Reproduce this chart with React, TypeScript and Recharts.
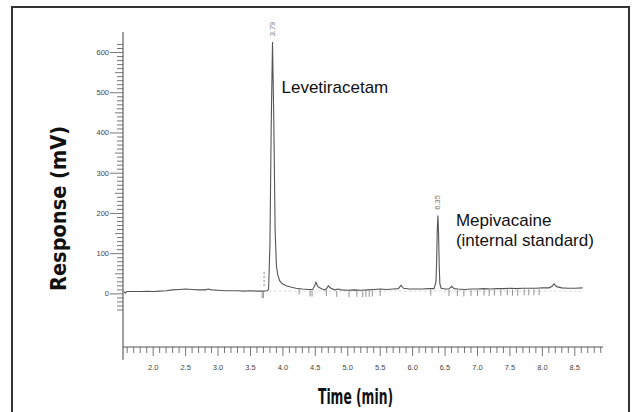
import React from "react";
import {
    ComposedChart,
    Line,
    Scatter,
    XAxis,
    YAxis,
    ReferenceLine,
    ReferenceDot,
    Label,
} from "recharts";

// chromatogram trace, time (min) vs response (mV)
const traceTime = [
    1.55, 1.57, 1.59, 1.7, 1.8, 1.9, 2.0, 2.1, 2.2, 2.3, 2.4, 2.5, 2.6, 2.7, 2.8, 2.85, 2.9,
    3.0, 3.1, 3.2, 3.3, 3.4, 3.5, 3.6, 3.7, 3.76, 3.78, 3.8, 3.82, 3.84, 3.86, 3.88, 3.9,
    3.92, 3.95, 3.99, 4.05, 4.12, 4.2, 4.3, 4.4, 4.46, 4.49, 4.51, 4.54, 4.6, 4.65, 4.68,
    4.7, 4.74, 4.8, 4.85, 4.9, 5.0, 5.1, 5.2, 5.3, 5.4, 5.5, 5.6, 5.7, 5.78, 5.82, 5.86,
    5.95, 6.05, 6.15, 6.25, 6.33, 6.36, 6.37, 6.38, 6.39, 6.4, 6.41, 6.42, 6.44, 6.5, 6.56,
    6.6, 6.64, 6.7, 6.8, 6.9, 7.0, 7.1, 7.2, 7.3, 7.4, 7.5, 7.6, 7.7, 7.8, 7.9, 8.0, 8.1,
    8.15, 8.18, 8.22, 8.3, 8.4, 8.5, 8.62,
];
const traceResp = [
    6, 2, 6, 6, 6, 6.5, 6, 7, 8, 10, 11, 12, 11, 10, 10, 12, 10,
    9, 8, 8, 8, 7, 8, 7, 7, 8, 12, 120, 420, 626, 430, 160, 70,
    48, 33, 25, 20, 17, 14, 12, 11, 11, 20, 29, 18, 12, 10, 15,
    20, 14, 10, 12, 10, 9, 10, 9, 10, 11, 12, 11, 12, 13, 21, 14,
    12, 12, 12, 13, 13, 30, 80, 160, 195, 150, 70, 25, 14, 12, 12,
    19, 13, 12, 11, 12, 12, 13, 12, 13, 13, 14, 13, 14, 14, 14, 15, 15,
    19, 25, 18, 15, 14, 14, 15,
];

// integration event marks under the baseline
const markTime = [
    3.68, 3.7, 4.25, 4.42, 4.45, 4.67, 4.83, 5.02, 5.14, 5.23, 5.28, 5.33, 5.38, 5.5,
    6.28, 6.56, 6.69, 6.79, 6.9, 7.0, 7.1, 7.18, 7.26, 7.36, 7.46, 7.54, 7.62, 7.72,
    7.79, 7.87, 7.95,
];
const markResp = [
    7, 7, 16, 11, 11, 12, 10, 9, 10, 9, 10, 10, 11, 12,
    13, 12, 12, 11, 12, 12, 13, 12, 13, 13, 14, 13, 13, 14,
    14, 14, 14,
];

// dashed start mark before the main peak
const startMarkTime = 3.71;
const startMarkResp = [20, 58];

const peakTime = [3.84, 6.39];
const peakResp = [626, 195];
const peakRt = ["3.79", "6.35"];
const peakName = [["Levetiracetam"], ["Mepivacaine", "(internal standard)"]];

const yMajorTicks = [0, 100, 200, 300, 400, 500, 600];
const xMajorTicks = [2.0, 2.5, 3.0, 3.5, 4.0, 4.5, 5.0, 5.5, 6.0, 6.5, 7.0, 7.5, 8.0, 8.5];

const yTicks = Array.from({ length: 67 }, (_, i) => -40 + i * 10);
const xTicks = Array.from({ length: 74 }, (_, i) => Math.round((1.6 + i * 0.1) * 10) / 10);

const traceRows = traceTime.map((t, i) => ({ t, v: traceResp[i] }));
const markRows = markTime.map((t, i) => ({ t, v: markResp[i] }));

const X_DOMAIN: [number, number] = [1.535, 8.935];
const Y_DOMAIN: [number, number] = [-132, 651];

const tickFont = "'Liberation Sans', Arial, sans-serif";
const titleFont = "'Liberation Sans Narrow', 'DejaVu Sans Condensed', 'Liberation Sans', sans-serif";

const nameOffset = [
    { dx: 9, dy: 51 },
    { dx: 18, dy: 10.5 },
];

const YTick = (props: any) => {
    const { x, y, payload } = props;
    const v = payload.value;
    const major = yMajorTicks.includes(v);
    const len = major ? 13 : v % 50 === 0 ? 8 : 6;
    return (
        <g>
            <line x1={x - len} x2={x} y1={y} y2={y} stroke="#555" strokeWidth={0.8} />
            {major && (
                <text
                    x={x - 14}
                    y={y}
                    dy={2.5}
                    textAnchor="end"
                    fontSize={7.5}
                    fill="#444"
                    fontFamily={tickFont}
                >
                    {v}
                </text>
            )}
        </g>
    );
};

const XTick = (props: any) => {
    const { x, y, payload } = props;
    const v = payload.value;
    const major = xMajorTicks.some((m) => Math.abs(m - v) < 1e-6);
    return (
        <g>
            <line x1={x} x2={x} y1={y} y2={y + (major ? 9 : 6)} stroke="#555" strokeWidth={0.8} />
            {major && (
                <text
                    x={x}
                    y={y + 23}
                    textAnchor="middle"
                    fontSize={7.5}
                    fill="#444"
                    fontFamily={tickFont}
                >
                    {v.toFixed(1)}
                </text>
            )}
        </g>
    );
};

const EventMark = (props: any) => {
    const { cx, cy } = props;
    return <line x1={cx} x2={cx} y1={cy + 1} y2={cy + 7} stroke="#777" strokeWidth={0.8} />;
};

const App: React.FC = () => {
    return (
        <div
            style={{
                position: "absolute",
                left: 0,
                top: 0,
                width: 641,
                height: 412,
                background: "#fff",
                overflow: "hidden",
            }}
        >
            <div
                style={{
                    position: "absolute",
                    left: 11,
                    top: 6,
                    width: 619,
                    height: 440,
                    border: "2px solid #333",
                    boxSizing: "border-box",
                }}
            />
            <div style={{ position: "absolute", left: 0, top: 0 }}>
                <ComposedChart
                    width={641}
                    height={412}
                    data={traceRows}
                    margin={{ top: 32, right: 38, bottom: 0, left: 0 }}
                >
                    <XAxis
                        dataKey="t"
                        type="number"
                        domain={X_DOMAIN}
                        allowDataOverflow
                        ticks={xTicks}
                        interval={0}
                        tick={<XTick />}
                        tickLine={false}
                        tickSize={0}
                        tickMargin={0}
                        height={65}
                        axisLine={{ stroke: "#555", strokeWidth: 1 }}
                    >
                        <Label
                            content={(p: any) => {
                                const vb = p.viewBox;
                                return (
                                    <text
                                        x={vb.x + vb.width / 2 - 7.5}
                                        y={vb.y + 57}
                                        textAnchor="middle"
                                        fontSize={22}
                                        fontWeight="bold"
                                        fill="#111"
                                        fontFamily={titleFont}
                                        textLength={75}
                                        lengthAdjust="spacingAndGlyphs"
                                    >
                                        Time (min)
                                    </text>
                                );
                            }}
                        />
                    </XAxis>
                    <YAxis
                        type="number"
                        domain={Y_DOMAIN}
                        allowDataOverflow
                        ticks={yTicks}
                        interval={0}
                        tick={<YTick />}
                        tickLine={false}
                        tickSize={0}
                        tickMargin={0}
                        width={123}
                        axisLine={{ stroke: "#444", strokeWidth: 1 }}
                    >
                        <Label
                            content={(p: any) => {
                                const vb = p.viewBox;
                                const cx = vb.x + 66;
                                const cy = vb.y + vb.height / 2 + 19;
                                return (
                                    <text
                                        x={cx}
                                        y={cy}
                                        transform={`rotate(-90 ${cx} ${cy})`}
                                        textAnchor="middle"
                                        fontSize={22}
                                        fontWeight="bold"
                                        fill="#111"
                                        fontFamily={titleFont}
                                        textLength={165}
                                        lengthAdjust="spacingAndGlyphs"
                                    >
                                        Response (mV)
                                    </text>
                                );
                            }}
                        />
                    </YAxis>
                    <ReferenceLine
                        segment={[
                            { x: X_DOMAIN[0], y: Y_DOMAIN[0] },
                            { x: X_DOMAIN[0], y: -164 },
                        ]}
                        ifOverflow="visible"
                        stroke="#444"
                        strokeWidth={1}
                    />
                    <ReferenceLine
                        segment={[
                            { x: 3.78, y: 7 },
                            { x: 8.6, y: 7 },
                        ]}
                        stroke="#cfcfcf"
                        strokeWidth={0.8}
                        strokeDasharray="3 2"
                    />
                    <ReferenceLine
                        segment={[
                            { x: startMarkTime, y: startMarkResp[0] },
                            { x: startMarkTime, y: startMarkResp[1] },
                        ]}
                        stroke="#666"
                        strokeWidth={0.8}
                        strokeDasharray="2 2"
                    />
                    <Scatter
                        data={markRows}
                        dataKey="v"
                        shape={<EventMark />}
                        isAnimationActive={false}
                    />
                    <Line
                        dataKey="v"
                        type="linear"
                        dot={false}
                        stroke="#555"
                        strokeWidth={1.1}
                        isAnimationActive={false}
                    />
                    {peakTime.map((t, i) => (
                        <ReferenceDot
                            key={peakRt[i]}
                            x={t}
                            y={peakResp[i]}
                            r={0}
                            ifOverflow="visible"
                            shape={(p: any) => {
                                const { cx, cy } = p;
                                const ly = cy - 13;
                                const off = nameOffset[i];
                                return (
                                    <g>
                                        <text
                                            x={cx}
                                            y={ly}
                                            dy={2.5}
                                            transform={`rotate(-90 ${cx} ${ly})`}
                                            textAnchor="middle"
                                            fontSize={7.5}
                                            fill="#777"
                                            fontFamily={tickFont}
                                        >
                                            {peakRt[i]}
                                        </text>
                                        {peakName[i].map((s, j) => (
                                            <text
                                                key={s}
                                                x={cx + off.dx}
                                                y={cy + off.dy + j * 20}
                                                fontSize={17}
                                                fill="#111"
                                                fontFamily={tickFont}
                                            >
                                                {s}
                                            </text>
                                        ))}
                                    </g>
                                );
                            }}
                        />
                    ))}
                </ComposedChart>
            </div>
        </div>
    );
};

export default App;
